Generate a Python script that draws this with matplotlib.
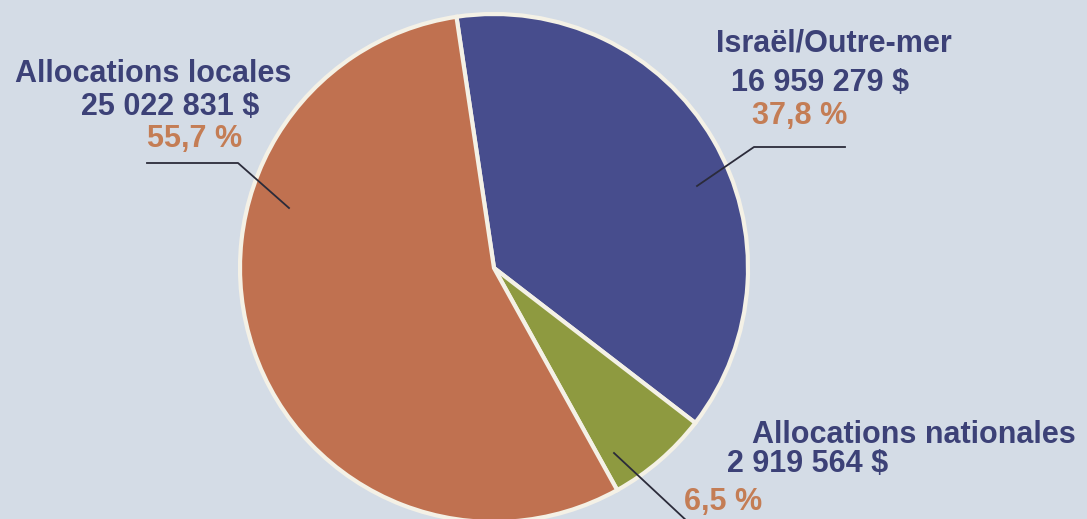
import numpy as np
import matplotlib.pyplot as plt

# Data (in drawing order, clockwise from the top)
labels = ['Israël/Outre-mer', 'Allocations nationales', 'Allocations locales']
amounts = ['16 959 279 $', '2 919 564 $', '25 022 831 $']
shares = [37.8, 6.5, 55.7]
pct_txt = ['37,8 %', '6,5 %', '55,7 %']

colors = ['#474d8d', '#8e9a40', '#c07150']
navy = '#3c4177'
orange = '#c47d55'
bg = '#d4dce6'

plt.rcParams['font.family'] = ['Liberation Sans', 'DejaVu Sans']

W, H = 1087, 519
fig = plt.figure(figsize=(W / 100, H / 100), dpi=100, facecolor=bg)
ax = fig.add_axes([0, 0, 1, 1])
ax.set_facecolor(bg)

# pie centre / radius in pixel coordinates (y up)
cx, cy, r = 494, H - 268, 254
ax.pie(shares, colors=colors, startangle=98.5, counterclock=False,
       center=(cx, cy), radius=r,
       wedgeprops=dict(edgecolor='#f4f1e6', linewidth=3))
ax.set_xlim(0, W)
ax.set_ylim(0, H)
ax.set_aspect('equal')
ax.axis('off')


def y(v):
    return H - v


fs = 22
# Allocations locales
ax.text(153, y(74), labels[2], ha='center', va='center', fontsize=fs,
        fontweight='bold', color=navy)
ax.text(170, y(107), amounts[2], ha='center', va='center', fontsize=fs,
        fontweight='bold', color=navy)
ax.text(195, y(139), pct_txt[2], ha='center', va='center', fontsize=fs,
        fontweight='bold', color=orange)
ax.plot([147, 238, 289], [y(163), y(163), y(208)], color='#2b2b3a', lw=1.3)

# Israel / Outre-mer
ax.text(834, y(44), labels[0], ha='center', va='center', fontsize=fs,
        fontweight='bold', color=navy)
ax.text(820, y(83), amounts[0], ha='center', va='center', fontsize=fs,
        fontweight='bold', color=navy)
ax.text(800, y(116), pct_txt[0], ha='center', va='center', fontsize=fs,
        fontweight='bold', color=orange)
ax.plot([845, 754, 697], [y(147), y(147), y(186)], color='#2b2b3a', lw=1.3)

# Allocations nationales
ax.text(914, y(435), labels[1], ha='center', va='center', fontsize=fs,
        fontweight='bold', color=navy)
ax.text(808, y(464), amounts[1], ha='center', va='center', fontsize=fs,
        fontweight='bold', color=navy)
ax.text(723, y(502), pct_txt[1], ha='center', va='center', fontsize=fs,
        fontweight='bold', color=orange)
ax.plot([614, 688], [y(453), y(522)], color='#2b2b3a', lw=1.3)

fig.savefig('out.png', dpi=100, facecolor=bg)
